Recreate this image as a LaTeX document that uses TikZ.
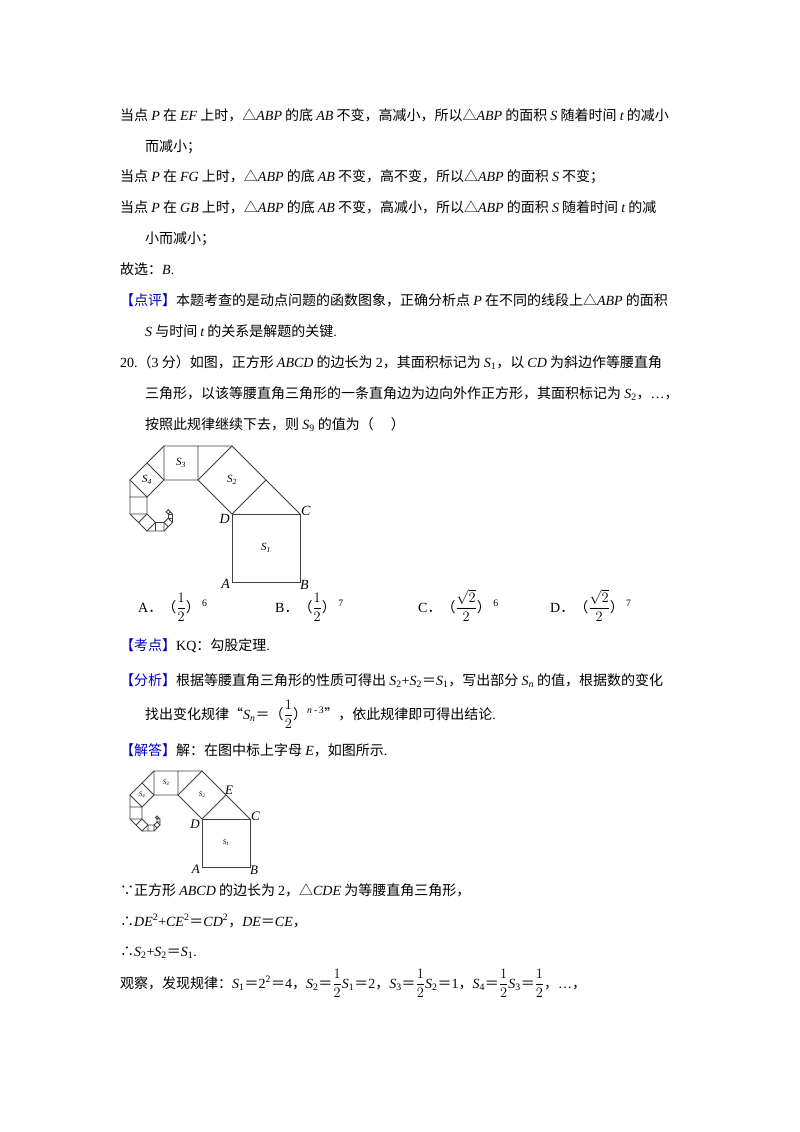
\documentclass[tikz,border=0pt]{standalone}
\usepackage{amsmath}
\usepackage{fontspec}
\usetikzlibrary{calc}
\setmainfont{Noto Sans CJK SC}
\newfontfamily\lat{Liberation Serif}
\newcommand\mi[1]{{\lat\itshape #1}}
\newcommand\la[1]{{\lat #1}}
\newcommand\hd[1]{\textcolor{blue!75!black}{【#1】}}
\newcommand\hf{\(\dfrac{1}{2}\)}
\newcommand\spiral[5]{% x y side labelsize extra
 \coordinate (D) at (#1,#2); \coordinate (C) at (#1+#3,#2);
 \coordinate (A) at (#1,#2+#3); \coordinate (B) at (#1+#3,#2+#3);
 \draw[fig] (A)--(B)--(C)--(D)--cycle;
 \node[font=\lat\itshape\fontsize{#4}{#4}\selectfont] (s1) at ($(A)!0.5!(C)$) {S\textsubscript{1}};
 \coordinate (p1) at (D); \coordinate (q1) at (C);
 \foreach \i [evaluate=\i as \j using int(\i+1)] in {1,...,9} {
   \coordinate (e\i) at ($(p\i)!0.70711!45:(q\i)$);
   \coordinate (p\j) at ($(p\i)!1!90:(e\i)$);
   \coordinate (q\j) at ($(e\i)!1!-90:(p\i)$);
   \draw[fig] (p\i)--(e\i)--(q\i) (e\i)--(q\j)--(p\j)--(p\i);
 }
 \foreach \i/\k in {1/2,2/3,3/4} {
   \node[font=\lat\itshape\fontsize{#4}{#4}\selectfont] (s\k) at ($(p\i)!0.5!(q\k)$) {S\textsubscript{\k}};
 }
 \node[lbl,anchor=east] (lA) at ($(A)+(-1,2)$) {A};
 \node[lbl,anchor=west] (lB) at ($(B)+(-1,3)$) {B};
 \node[lbl,anchor=west] (lC) at ($(C)+(0,-3)$) {C};
 \node[lbl,anchor=east] (lD) at ($(D)+(-1,5)$) {D};
 #5
}
\begin{document}
\begin{tikzpicture}[x=1pt,y=-1pt,
  t/.style={anchor=base west,inner sep=0pt,font=\fontsize{14}{16}\selectfont},
  fig/.style={line width=0.8pt,draw=black!75},
  lbl/.style={inner sep=1pt,font=\lat\itshape\fontsize{14}{14}\selectfont}]
\useasboundingbox[fill=white] (0,0) rectangle (800,1132);
\node[t] (l1) at (120,120) {当点 \mi{P} 在 \mi{EF} 上时，△\mi{ABP} 的底 \mi{AB} 不变，高减小，所以△\mi{ABP} 的面积 \mi{S} 随着时间 \mi{t} 的减小};
\node[t] (l2) at (145,151) {而减小；};
\node[t] (l3) at (120,181) {当点 \mi{P} 在 \mi{FG} 上时，△\mi{ABP} 的底 \mi{AB} 不变，高不变，所以△\mi{ABP} 的面积 \mi{S} 不变；};
\node[t] (l4) at (120,212) {当点 \mi{P} 在 \mi{GB} 上时，△\mi{ABP} 的底 \mi{AB} 不变，高减小，所以△\mi{ABP} 的面积 \mi{S} 随着时间 \mi{t} 的减};
\node[t] (l5) at (145,243) {小而减小；};
\node[t] (l6) at (120,274) {故选：\mi{B}\la{.}};
\node[t] (l7) at (120,305) {\hd{点评}本题考查的是动点问题的函数图象，正确分析点 \mi{P} 在不同的线段上△\mi{ABP} 的面积};
\node[t] (l8) at (145,336) {\mi{S} 与时间 \mi{t} 的关系是解题的关键\la{.}};
\node[t] (l9) at (120,367) {\la{20.}（\la{3} 分）如图，正方形 \mi{ABCD} 的边长为 \la{2}，其面积标记为 \mi{S}\la{\textsubscript{1}}，以 \mi{CD} 为斜边作等腰直角};
\node[t] (l10) at (145,398) {三角形，以该等腰直角三角形的一条直角边为边向外作正方形，其面积标记为 \mi{S}\la{\textsubscript{2}}，\la{…}，};
\node[t] (l11) at (145,429) {按照此规律继续下去，则 \mi{S}\la{\textsubscript{9}} 的值为（\quad\ ）};
\spiral{232}{514}{68}{11}{}
\node[t] (oa) at (138,612) {\la{A}．（\hf）\la{\,\textsuperscript{6}}};
\node[t] (ob) at (275,612) {\la{B}．（\hf）\la{\,\textsuperscript{7}}};
\node[t] (oc) at (418,612) {\la{C}．（\(\dfrac{\sqrt{2}}{2}\)）\la{\,\textsuperscript{6}}};
\node[t] (od) at (550,612) {\la{D}．（\(\dfrac{\sqrt{2}}{2}\)）\la{\,\textsuperscript{7}}};
\node[t] (l12) at (120,650) {\hd{考点}\la{KQ}：勾股定理\la{.}};
\node[t] (l13) at (120,685) {\hd{分析}根据等腰直角三角形的性质可得出 \mi{S}\la{\textsubscript{2}+}\mi{S}\la{\textsubscript{2}}＝\mi{S}\la{\textsubscript{1}}，写出部分 \mi{S\textsubscript{n}} 的值，根据数的变化};
\node[t] (l14) at (145,719) {找出变化规律“\mi{S\textsubscript{n}}＝（\hf）\mi{\textsuperscript{n}}\la{\textsuperscript{\,-\,3}}”，依此规律即可得出结论\la{.}};
\node[t] (l15) at (120,755) {\hd{解答}解：在图中标上字母 \mi{E}，如图所示\la{.}};
\begin{scope}[lbl/.style={inner sep=1pt,font=\lat\itshape\fontsize{13}{13}\selectfont}]
\spiral{202}{819}{48}{7}{\node[lbl,anchor=south west] (lE) at ($(e1)+(-2,1)$) {E};}
\end{scope}
\node[t] (l16) at (120,895) {∵正方形 \mi{ABCD} 的边长为 \la{2}，△\mi{CDE} 为等腰直角三角形，};
\node[t] (l17) at (120,926) {∴\mi{DE}\la{\textsuperscript{2}+}\mi{CE}\la{\textsuperscript{2}}＝\mi{CD}\la{\textsuperscript{2}}，\mi{DE}＝\mi{CE}，};
\node[t] (l18) at (120,956) {∴\mi{S}\la{\textsubscript{2}+}\mi{S}\la{\textsubscript{2}}＝\mi{S}\la{\textsubscript{1}.}};
\node[t] (l19) at (120,988) {观察，发现规律：\mi{S}\la{\textsubscript{1}}＝\la{2\textsuperscript{2}}＝\la{4}，\mi{S}\la{\textsubscript{2}}＝\hf\mi{S}\la{\textsubscript{1}}＝\la{2}，\mi{S}\la{\textsubscript{3}}＝\hf\mi{S}\la{\textsubscript{2}}＝\la{1}，\mi{S}\la{\textsubscript{4}}＝\hf\mi{S}\la{\textsubscript{3}}＝\hf，\la{…}，};
\end{tikzpicture}
\end{document}
